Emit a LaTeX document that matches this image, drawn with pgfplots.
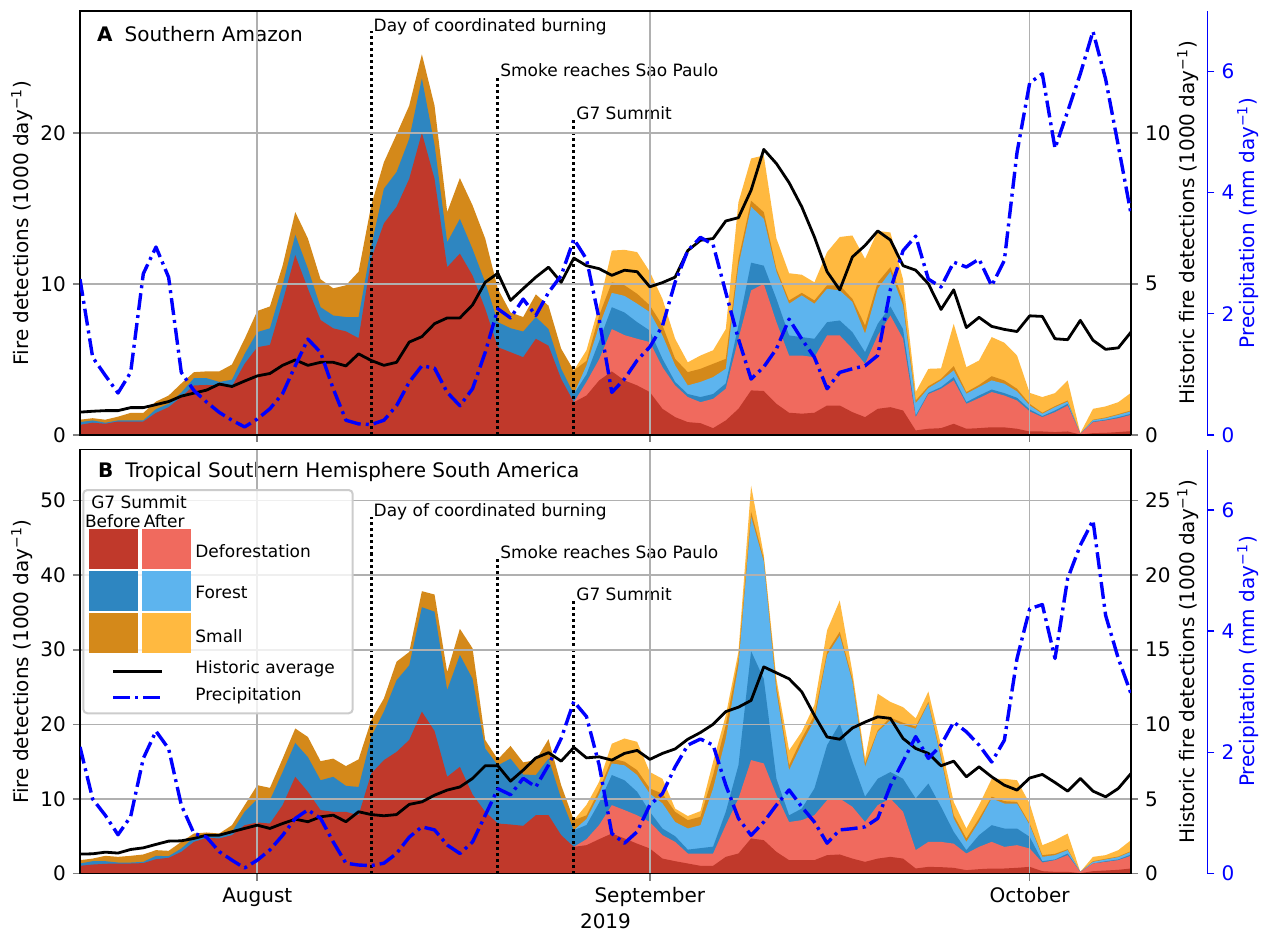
\documentclass[border=0pt]{standalone}
\usepackage{fontspec}
\setmainfont{DejaVu Sans}
\usepackage{pgfplots}
\usepackage{pgfplotstable}
\pgfplotsset{compat=1.18}

\definecolor{defB}{HTML}{C0392B}
\definecolor{defA}{HTML}{F06A5E}
\definecolor{forB}{HTML}{2E86C1}
\definecolor{forA}{HTML}{5DB4EE}
\definecolor{smB}{HTML}{D4891A}
\definecolor{smA}{HTML}{FFB940}
\definecolor{gridgray}{RGB}{176,176,176}

% d = days from 1 Aug 2019; DR..LO cumulative stack (1000/day), H historic (1000/day), P precip (mm/day)
\pgfplotstableread{
d DR LR DB LB DO LO H P
-14 0.66 0.66 0.84 0.84 1.00 1.00 0.75 2.57
-13 0.80 0.80 0.95 0.95 1.10 1.10 0.78 1.28
-12 0.73 0.73 0.80 0.80 1.00 1.00 0.80 0.98
-11 0.88 0.88 0.95 0.95 1.20 1.20 0.80 0.69
-10 0.88 0.88 0.95 0.95 1.45 1.45 0.90 1.03
-9 0.88 0.88 0.95 0.95 1.45 1.45 0.90 2.66
-8 1.45 1.45 1.70 1.70 2.20 2.20 1.00 3.10
-7 1.83 1.83 2.05 2.05 2.60 2.60 1.10 2.60
-6 2.50 2.50 2.80 2.80 3.40 3.40 1.28 1.03
-5 3.27 3.27 3.75 3.75 4.15 4.15 1.38 0.73
-4 3.30 3.30 3.75 3.75 4.20 4.20 1.48 0.54
-3 3.27 3.27 3.50 3.50 4.20 4.20 1.68 0.37
-2 3.20 3.20 3.65 3.65 4.65 4.65 1.60 0.24
-1 4.70 4.70 5.35 5.35 6.35 6.35 1.78 0.13
0 5.80 5.80 6.80 6.80 8.20 8.20 1.95 0.26
1 5.95 5.95 7.05 7.05 8.50 8.50 2.03 0.43
2 8.80 8.80 9.90 9.90 11.20 11.20 2.30 0.68
3 11.90 11.90 13.25 13.25 14.75 14.75 2.48 1.14
4 9.67 9.67 11.00 11.00 13.00 13.00 2.30 1.58
5 7.60 7.60 8.45 8.45 10.30 10.30 2.40 1.36
6 7.05 7.05 7.90 7.90 9.70 9.70 2.40 0.76
7 6.85 6.85 7.80 7.80 9.90 9.90 2.28 0.24
8 6.40 6.40 7.80 7.80 10.80 10.80 2.68 0.18
9 11.65 11.65 12.50 12.50 15.20 15.20 2.46 0.17
10 14.00 14.00 16.30 16.30 18.05 18.05 2.30 0.24
11 15.10 15.10 17.40 17.40 19.90 19.90 2.40 0.48
12 16.95 16.95 19.60 19.60 21.80 21.80 3.07 0.87
13 20.00 20.00 23.60 23.60 25.20 25.20 3.25 1.14
14 16.95 16.95 19.20 19.20 21.80 21.80 3.68 1.10
15 11.10 11.10 12.75 12.75 14.75 14.75 3.87 0.70
16 12.00 12.00 14.30 14.30 17.00 17.00 3.87 0.48
17 10.55 10.55 12.30 12.30 15.20 15.20 4.30 0.76
18 8.35 8.35 10.10 10.10 13.00 13.00 5.05 1.36
19 5.80 5.80 7.46 7.46 9.67 9.67 5.35 2.08
20 5.47 5.47 7.06 7.06 8.10 8.10 4.45 1.93
21 5.14 5.14 6.84 6.84 7.80 7.80 4.84 2.24
22 6.36 6.36 7.80 7.80 9.30 9.30 5.22 1.97
23 5.90 5.90 7.00 7.00 8.55 8.55 5.55 2.35
24 3.70 3.70 4.37 4.37 5.70 5.70 5.05 2.63
25 2.16 2.16 2.70 2.70 4.26 4.26 5.85 3.23
26 2.60 3.50 4.00 4.60 4.90 5.60 5.60 2.90
27 3.60 5.00 6.20 7.20 7.90 8.60 5.50 1.91
28 4.20 7.00 8.45 9.40 10.10 12.20 5.28 0.70
29 3.60 6.60 8.10 9.20 9.90 12.25 5.45 0.92
30 3.27 6.36 7.46 8.68 9.34 12.10 5.40 1.23
31 2.83 6.14 6.90 8.12 8.57 10.80 4.90 1.45
32 1.72 4.48 5.03 6.58 7.24 9.00 5.04 1.80
33 1.17 3.27 3.50 4.60 5.03 6.36 5.22 2.52
34 0.84 2.50 2.70 3.27 4.15 4.80 6.10 3.04
35 0.77 2.16 2.50 3.50 4.37 5.25 6.44 3.26
36 0.44 2.38 2.70 3.82 4.70 5.60 6.50 3.14
37 0.95 3.05 3.40 4.37 5.03 7.00 7.08 2.35
38 1.72 6.36 7.24 11.20 11.65 15.40 7.19 1.58
39 2.94 9.56 11.40 15.10 15.50 18.30 8.10 0.92
40 2.90 10.00 11.20 14.30 14.75 18.50 9.45 1.12
41 2.05 7.46 9.00 10.80 11.00 13.00 8.98 1.42
42 1.46 5.25 6.58 8.68 8.90 10.70 8.35 1.91
43 1.40 5.25 6.47 9.23 9.40 10.60 7.55 1.58
44 1.46 5.14 6.36 8.68 8.90 10.10 6.55 1.28
45 1.94 6.58 7.46 9.67 9.90 12.10 5.40 0.76
46 1.94 6.58 7.57 9.56 9.90 13.10 4.80 1.03
47 1.50 5.70 6.80 8.79 9.00 13.20 5.89 1.09
48 1.17 4.70 5.47 6.70 7.24 11.65 6.27 1.14
49 1.72 6.58 7.35 9.67 10.10 13.50 6.75 1.31
50 1.83 7.90 8.50 10.80 11.10 13.40 6.45 2.40
51 1.61 6.36 7.00 8.57 9.00 10.30 5.60 3.04
52 0.29 1.17 1.28 2.10 2.27 2.83 5.45 3.28
53 0.40 2.70 2.78 3.09 3.22 4.37 5.00 2.57
54 0.44 3.05 3.16 3.60 3.70 4.40 4.15 2.44
55 0.73 3.60 3.82 4.26 4.55 7.35 4.80 2.85
56 0.40 2.05 2.16 2.72 2.83 4.48 3.55 2.77
57 0.44 2.43 2.60 3.16 3.30 4.92 3.89 2.90
58 0.50 2.83 3.00 3.60 3.88 6.47 3.59 2.46
59 0.49 2.60 2.76 3.38 3.60 6.10 3.49 2.88
60 0.40 2.27 2.45 2.87 3.05 5.25 3.42 4.66
61 0.22 1.55 1.68 1.94 2.05 2.78 3.94 5.81
62 0.22 1.17 1.24 1.39 1.46 2.50 3.92 5.96
63 0.18 1.50 1.61 1.83 1.90 2.76 3.18 4.73
64 0.22 1.94 2.05 2.20 2.27 3.60 3.15 5.34
65 0.02 0.07 0.07 0.07 0.07 0.11 3.79 5.96
66 0.11 0.84 0.88 0.97 1.00 1.72 3.13 6.66
67 0.13 0.95 1.00 1.10 1.15 1.88 2.83 5.87
68 0.18 1.10 1.17 1.32 1.37 2.16 2.88 4.77
69 0.24 1.32 1.39 1.55 1.61 2.78 3.40 3.65
}\tabA

\pgfplotstableread{
d DR LR DB LB DO LO H P
-14 1.03 1.03 1.34 1.34 1.79 1.79 1.30 2.09
-13 1.20 1.20 1.65 1.65 2.00 2.00 1.32 1.23
-12 1.30 1.30 1.65 1.65 2.37 2.37 1.43 0.96
-11 1.34 1.34 1.47 1.47 2.23 2.23 1.37 0.64
-10 1.34 1.34 1.47 1.47 2.37 2.37 1.61 0.94
-9 1.39 1.39 1.56 1.56 2.55 2.55 1.72 1.90
-8 1.92 1.92 2.37 2.37 3.13 3.13 1.95 2.35
-7 2.10 2.10 2.32 2.32 3.04 3.04 2.17 2.06
-6 2.90 2.90 3.35 3.35 4.24 4.24 2.19 1.13
-5 4.24 4.24 4.83 4.83 5.36 5.36 2.35 0.66
-4 4.78 4.78 5.14 5.14 5.50 5.50 2.57 0.60
-3 4.70 4.70 5.05 5.05 5.36 5.36 2.57 0.36
-2 5.14 5.14 5.60 5.60 6.48 6.48 2.80 0.22
-1 6.48 6.48 8.27 8.27 9.16 9.16 3.02 0.09
0 6.84 6.84 9.96 9.96 11.84 11.84 3.24 0.22
1 6.70 6.70 9.83 9.83 11.48 11.48 3.02 0.39
2 9.16 9.16 13.60 13.60 15.40 15.40 3.35 0.63
3 12.96 12.96 17.50 17.50 19.44 19.44 3.64 0.91
4 10.95 10.95 15.60 15.60 18.30 18.30 3.47 1.05
5 8.50 8.50 12.50 12.50 15.06 15.06 3.80 0.91
6 8.27 8.27 12.96 12.96 15.40 15.40 3.91 0.52
7 8.27 8.27 11.75 11.75 14.40 14.40 3.47 0.17
8 7.80 7.80 11.60 11.60 15.30 15.30 4.14 0.14
9 13.40 13.40 18.30 18.30 20.55 20.55 3.95 0.13
10 15.20 15.20 21.70 21.70 23.46 23.46 3.87 0.17
11 16.30 16.30 25.90 25.90 28.40 28.40 3.95 0.33
12 17.90 17.90 27.90 27.90 29.70 29.70 4.63 0.60
13 21.70 21.70 35.70 35.70 37.85 37.85 4.80 0.77
14 19.10 19.10 35.10 35.10 37.40 37.40 5.25 0.72
15 12.96 12.96 24.60 24.60 27.00 27.00 5.59 0.47
16 14.30 14.30 29.30 29.30 32.80 32.80 5.80 0.33
17 10.60 10.60 26.10 26.10 30.20 30.20 6.37 0.52
18 8.27 8.27 16.76 16.76 17.90 17.90 7.22 0.96
19 6.70 6.70 14.50 14.50 15.30 15.30 7.22 1.40
20 6.57 6.57 15.40 15.40 17.10 17.10 6.19 1.30
21 6.39 6.39 13.27 13.27 14.90 14.90 6.93 1.57
22 7.82 7.82 13.20 13.20 15.20 15.20 7.75 1.43
23 7.82 7.82 15.40 15.40 18.00 18.00 8.10 1.79
24 5.14 5.14 10.05 10.05 11.84 11.84 7.53 2.23
25 3.57 3.57 5.80 5.80 7.15 7.15 8.45 2.84
26 3.80 4.60 6.50 7.30 7.80 9.20 7.75 2.59
27 4.60 6.50 9.50 10.60 11.20 12.30 7.82 1.79
28 5.36 9.16 13.20 14.75 15.40 17.40 7.60 0.66
29 4.70 8.50 12.50 14.50 15.00 18.10 8.05 0.50
30 4.00 7.80 10.95 13.20 13.85 17.65 8.25 0.69
31 3.35 6.90 8.27 10.70 11.40 13.60 7.65 1.13
32 2.00 5.14 6.03 9.40 10.70 12.70 8.05 1.32
33 1.65 4.24 5.00 6.90 8.27 8.70 8.35 1.76
34 1.34 2.68 3.20 6.03 7.15 7.70 9.00 2.12
35 1.03 2.68 3.40 6.48 7.60 8.36 9.45 2.22
36 1.03 2.68 3.60 11.40 13.20 15.00 10.00 2.12
37 2.23 6.48 8.27 18.10 19.90 21.20 10.85 1.46
38 2.68 10.05 14.50 27.90 28.80 29.70 11.15 0.91
39 4.70 15.20 29.80 47.80 48.50 52.00 11.60 0.63
40 4.47 14.75 26.10 41.80 42.20 42.70 13.85 0.85
41 2.90 10.50 12.70 24.40 25.20 26.10 13.45 1.13
42 1.79 6.90 7.80 13.85 14.50 16.50 13.05 1.38
43 1.79 7.15 8.70 17.40 18.10 19.00 12.18 1.10
44 1.79 7.82 11.40 20.55 21.20 22.60 10.60 0.85
45 2.46 9.83 17.20 29.30 29.70 32.60 9.15 0.50
46 2.55 10.05 20.10 31.90 32.40 36.60 9.00 0.72
47 2.00 8.94 15.00 25.70 26.10 27.00 9.75 0.74
48 1.56 6.90 10.30 14.30 14.75 15.40 10.15 0.77
49 2.00 9.16 12.70 19.00 19.20 24.10 10.50 0.91
50 2.23 10.05 13.60 20.55 20.90 23.00 10.40 1.45
51 2.00 8.27 12.70 19.90 20.20 22.30 9.05 1.85
52 0.67 3.13 10.05 19.40 19.70 20.80 8.38 2.26
53 0.89 4.24 12.06 22.80 23.00 24.40 8.05 1.90
54 0.85 4.24 8.94 15.40 15.80 17.20 7.22 2.12
55 0.76 4.00 5.59 7.37 7.82 9.60 7.53 2.50
56 0.45 2.68 3.13 4.24 4.70 6.03 6.48 2.34
57 0.58 3.57 5.14 6.93 7.37 9.16 7.15 2.12
58 0.67 4.24 6.48 10.05 10.30 12.70 6.48 1.84
59 0.67 3.57 6.03 9.38 9.70 12.70 5.92 2.20
60 0.76 3.80 6.03 9.38 9.60 12.50 5.59 3.55
61 0.89 3.35 4.92 6.48 6.70 9.38 6.40 4.37
62 0.31 1.47 1.65 2.23 2.46 3.80 6.64 4.44
63 0.22 1.79 1.88 2.46 2.64 4.47 6.10 3.55
64 0.22 2.46 2.68 3.13 3.26 5.36 5.52 4.87
65 0.05 0.22 0.22 0.22 0.22 0.22 6.37 5.42
66 0.31 1.34 1.34 1.56 1.65 2.23 5.52 5.83
67 0.40 1.56 1.65 1.88 1.97 2.46 5.14 4.26
68 0.49 1.79 1.88 2.19 2.28 3.13 5.70 3.55
69 0.67 2.37 2.55 2.90 3.00 4.47 6.70 2.97
}\tabB

\newcommand{\lbl}{\fontsize{10}{12}\selectfont}
\newcommand{\sml}{\fontsize{8.5}{10}\selectfont}
\newcommand{\perday}{(1000 day\textsuperscript{−1})}

\tikzset{
  histline/.style={black, line width=1.4pt, line join=round},
  precplot/.style={blue, line width=1.7pt, line join=round,
    dash pattern=on 8.5pt off 2.5pt on 1.5pt off 2.5pt},
  event/.style={black, line width=1.5pt, dash pattern=on 1.5pt off 1.5pt},
}

\pgfplotsset{
  panel/.style={scale only axis, width=525.5pt, height=212pt,
    xmin=-14, xmax=69,
    tick align=outside, major tick length=3.5pt,
    every tick/.append style={line width=0.8pt},
    /pgf/number format/assume math mode=true,
    tick label style={font=\lbl}, label style={font=\lbl}},
  mainax/.style={panel, axis on top,
    axis line style={line width=0.8pt},
    xtick={0,31,61}, xtick pos=left, ytick pos=left,
    grid=major, grid style={gridgray, line width=0.8pt},
    ylabel={Fire detections \perday},
    ylabel style={at={(axis description cs:-0.0552,0.5)}, anchor=center}},
  histax/.style={panel, hide x axis, axis y line*=right,
    axis line style={line width=0.8pt},
    ylabel={Historic fire detections \perday},
    ylabel style={at={(axis description cs:1.0542,0.5)}, anchor=center}},
  precline/.style={panel, hide axis, ymin=0, ymax=7},
  precax/.style={panel, hide x axis, axis y line*=right, ymin=0, ymax=7,
    ytick={0,2,4,6},
    y axis line style={blue, line width=0.8pt},
    ytick style={blue, line width=0.8pt},
    yticklabel style={text=blue},
    ylabel={Precipitation (mm day\textsuperscript{−1})},
    ylabel style={text=blue, at={(axis description cs:1.0385,0.5)}, anchor=center}},
}

\newcommand{\stack}[1]{%
  \addplot[fill=smA, draw=none, restrict x to domain=25:69] table[x=d,y=LO]{#1} \closedcycle;
  \addplot[fill=smB, draw=none] table[x=d,y=DO]{#1} \closedcycle;
  \addplot[fill=forA, draw=none, restrict x to domain=25:69] table[x=d,y=LB]{#1} \closedcycle;
  \addplot[fill=forB, draw=none] table[x=d,y=DB]{#1} \closedcycle;
  \addplot[fill=defA, draw=none, restrict x to domain=25:69] table[x=d,y=LR]{#1} \closedcycle;
  \addplot[fill=defB, draw=none] table[x=d,y=DR]{#1} \closedcycle;
}

\begin{document}
\begin{tikzpicture}
\path[use as bounding box] (0,0) rectangle (633pt,-465.5pt);

% ---------- panel A ----------
\begin{axis}[mainax, at={(40pt,-217.4pt)}, anchor=south west,
    ymin=0, ymax=28.08, ytick={0,10,20}, xticklabels={}]
  \stack{\tabA}
  \draw[event] (axis cs:9,0) -- (axis cs:9,26.74)
    node[anchor=base west, inner sep=0, xshift=0.5pt, font=\sml] {Day of coordinated burning};
  \draw[event] (axis cs:19,0) -- (axis cs:19,23.7)
    node[anchor=base west, inner sep=0, xshift=0.5pt, font=\sml] {Smoke reaches Sao Paulo};
  \draw[event] (axis cs:25,0) -- (axis cs:25,20.9)
    node[anchor=base west, inner sep=0, xshift=0.5pt, font=\sml] {G7 Summit};
  \node[anchor=west, inner sep=0, font=\lbl] at (axis description cs:0.0159,0.9446)
    {\textbf{A}\hspace{6pt}Southern Amazon};
\end{axis}
\begin{axis}[histax, at={(40pt,-217.4pt)}, anchor=south west,
    ymin=0, ymax=14.04, ytick={0,5,10}]
  \addplot[histline] table[x=d,y=H]{\tabA};
\end{axis}
\begin{axis}[precline, at={(40pt,-217.4pt)}, anchor=south west]
  \addplot[precplot] table[x=d,y=P]{\tabA};
\end{axis}
\begin{axis}[precax, at={(78.25pt,-217.4pt)}, anchor=south west]
\end{axis}

% ---------- panel B ----------
\begin{axis}[mainax, at={(40pt,-436.75pt)}, anchor=south west,
    ymin=0, ymax=56.84, ytick={0,10,20,30,40,50},
    xticklabels={August,September,October},
    xlabel={2019},
    xlabel style={at={(axis description cs:0.5,-0.112)}, anchor=center}]
  \stack{\tabB}
  \draw[event] (axis cs:9,0) -- (axis cs:9,47.8)
    node[anchor=base west, inner sep=0, xshift=0.5pt, font=\sml] {Day of coordinated burning};
  \draw[event] (axis cs:19,0) -- (axis cs:19,42.25)
    node[anchor=base west, inner sep=0, xshift=0.5pt, font=\sml] {Smoke reaches Sao Paulo};
  \draw[event] (axis cs:25,0) -- (axis cs:25,36.66)
    node[anchor=base west, inner sep=0, xshift=0.5pt, font=\sml] {G7 Summit};
  \node[anchor=west, inner sep=0, font=\lbl] at (axis description cs:0.0169,0.9476)
    {\textbf{B}\hspace{6pt}Tropical Southern Hemisphere South America};
\end{axis}
\begin{axis}[histax, at={(40pt,-436.75pt)}, anchor=south west,
    ymin=0, ymax=28.42, ytick={0,5,10,15,20,25}]
  \addplot[histline] table[x=d,y=H]{\tabB};
\end{axis}
\begin{axis}[precline, at={(40pt,-436.75pt)}, anchor=south west]
  \addplot[precplot] table[x=d,y=P]{\tabB};
\end{axis}
\begin{axis}[precax, at={(78.25pt,-436.75pt)}, anchor=south west]
\end{axis}

% ---------- legend (pixel units of the reference) ----------
\begin{scope}[x=0.5pt, y=-0.5pt]
  \draw[black!20, line width=1pt, fill=white, fill opacity=0.8, rounded corners=2pt]
    (83.3,490) rectangle (352.7,713.3);
  \node[font=\sml, inner sep=0] at (139,502) {G7 Summit};
  \node[font=\sml, inner sep=0] at (112.8,521) {Before};
  \node[font=\sml, inner sep=0] at (164.2,521) {After};
  \fill[defB] (89.3,529.3) rectangle (138.3,569);
  \fill[defA] (141.7,529.3) rectangle (190.7,569);
  \fill[forB] (89.3,571) rectangle (138.3,610.7);
  \fill[forA] (141.7,571) rectangle (190.7,610.7);
  \fill[smB] (89.3,613) rectangle (138.3,653.3);
  \fill[smA] (141.7,613) rectangle (190.7,653.3);
  \node[font=\sml, anchor=west, inner sep=0] at (195,551) {Deforestation};
  \node[font=\sml, anchor=west, inner sep=0] at (195,592.7) {Forest};
  \node[font=\sml, anchor=west, inner sep=0] at (195,635.7) {Small};
  \draw[histline] (113.3,671.7) -- (162.3,671.7);
  \node[font=\sml, anchor=west, inner sep=0] at (195,669) {Historic average};
  \draw[precplot] (113.3,697.7) -- (162,697.7);
  \node[font=\sml, anchor=west, inner sep=0] at (195,695.7) {Precipitation};
\end{scope}
\end{tikzpicture}
\end{document}
